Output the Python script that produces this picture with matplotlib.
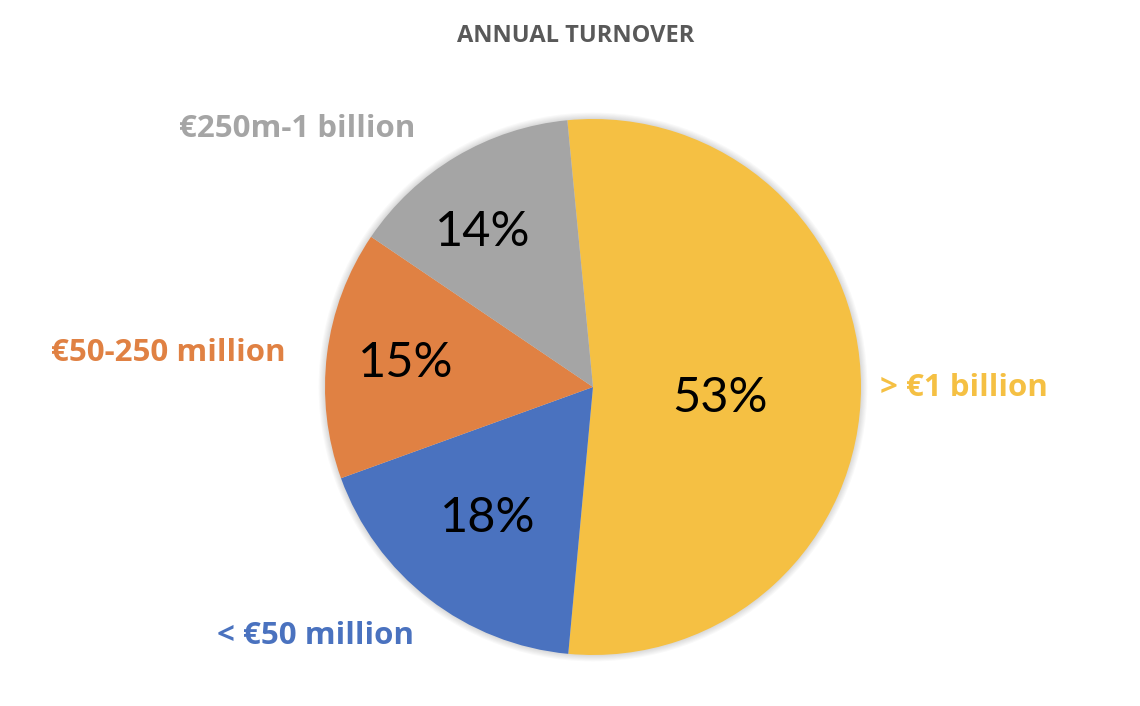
import numpy as np
import matplotlib
matplotlib.use("Agg")
import matplotlib.pyplot as plt
from matplotlib.patches import Circle

# data
categories = ["> €1 billion", "< €50 million", "€50-250 million", "€250m-1 billion"]
shares = [53, 18, 15, 14]
colors = ["#F5C043", "#4A72BF", "#E08143", "#A5A5A5"]

# label / percentage positions (pie radius = 1)
label_pos = [(1.384, -0.004), (-1.034, -0.929), (-1.586, 0.127), (-1.104, 0.963)]
pct_pos = [(0.474, -0.041), (-0.392, -0.489), (-0.70, 0.09), (-0.41, 0.578)]

plt.rcParams['font.family'] = ['Lato', 'DejaVu Sans']

fig = plt.figure(figsize=(11.4, 7.06), dpi=100)
ax = fig.add_axes([0, 0, 1, 1])

# soft shadow around the pie
for k in range(6):
    ax.add_patch(Circle((0, 0), 1.0 + 0.004 * (k + 1), color="black",
                        alpha=0.025, lw=0, zorder=0))

wedges, texts, autotexts = ax.pie(
    shares, labels=categories, colors=colors, startangle=95.5,
    counterclock=False, autopct=lambda p: f"{round(p):d}%", radius=1.0,
    textprops=dict(fontsize=19, fontweight="bold"),
    wedgeprops=dict(linewidth=0, zorder=1))

for t, c, p in zip(texts, colors, label_pos):
    t.set_color(c)
    t.set_position(p)
    t.set_ha("center")
    t.set_va("center")
    t.set_family(["Open Sans", "DejaVu Sans"])
    t.set_fontsize(22.5)

for t, p in zip(autotexts, pct_pos):
    t.set_position(p)
    t.set_fontsize(35)
    t.set_fontweight("normal")
    t.set_color("black")
    t.set_ha("center")
    t.set_va("center")

ax.set_aspect("auto")
ax.set_xlim(-593 / 268, (1140 - 593) / 268)
ax.set_ylim((387 - 706) / 268, 387 / 268)
ax.axis("off")

fig.text(576 / 1140, 1 - 36 / 706, "ANNUAL TURNOVER", ha="center", va="center",
         fontsize=17, fontweight="bold", color="#595959",
         family=["Open Sans", "DejaVu Sans"])

fig.savefig("out.png", dpi=100)
